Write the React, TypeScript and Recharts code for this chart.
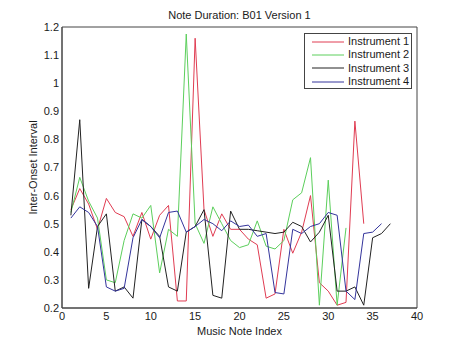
import React from 'react';
import { LineChart, Line, XAxis, YAxis, Legend } from 'recharts';

const seriesNames = ['Instrument 1', 'Instrument 2', 'Instrument 3', 'Instrument 4'];
const seriesColors = ['#e03c52', '#5ccf5c', '#222222', '#34349c'];

const inst1 = [0.55, 0.625, 0.57, 0.48, 0.59, 0.54, 0.525, 0.455, 0.54, 0.445, 0.53, 0.565, 0.225, 0.225, 1.16, 0.55, 0.455, 0.535, 0.48, 0.48, 0.445, 0.425, 0.235, 0.25, 0.48, 0.395, 0.47, 0.6, 0.29, 0.26, 0.21, 0.22, 0.865, 0.5];
const inst2 = [0.54, 0.665, 0.58, 0.52, 0.3, 0.29, 0.44, 0.535, 0.52, 0.565, 0.325, 0.48, 0.455, 1.175, 0.5, 0.43, 0.56, 0.5, 0.44, 0.415, 0.425, 0.51, 0.42, 0.41, 0.44, 0.585, 0.61, 0.735, 0.21, 0.655, 0.21, 0.485];
const inst3 = [0.53, 0.87, 0.27, 0.49, 0.535, 0.26, 0.275, 0.235, 0.515, 0.49, 0.455, 0.275, 0.26, 0.47, 0.49, 0.55, 0.245, 0.235, 0.545, 0.48, 0.48, 0.475, 0.47, 0.465, 0.47, 0.505, 0.49, 0.435, 0.47, 0.53, 0.26, 0.26, 0.275, 0.21, 0.45, 0.465, 0.5];
const inst4 = [0.52, 0.56, 0.54, 0.49, 0.275, 0.26, 0.27, 0.45, 0.515, 0.49, 0.45, 0.54, 0.545, 0.47, 0.49, 0.515, 0.5, 0.475, 0.51, 0.49, 0.495, 0.455, 0.465, 0.255, 0.25, 0.48, 0.465, 0.49, 0.5, 0.54, 0.53, 0.26, 0.23, 0.465, 0.47, 0.5];

const xTicks = [0, 5, 10, 15, 20, 25, 30, 35, 40];
const yTicks = [0.2, 0.3, 0.4, 0.5, 0.6, 0.7, 0.8, 0.9, 1.0, 1.1, 1.2];

const allSeries = [inst1, inst2, inst3, inst4];
const keys = ['inst1', 'inst2', 'inst3', 'inst4'];
const maxLen = Math.max(...allSeries.map((s) => s.length));
const data = Array.from({ length: maxLen }, (_, i) => {
  const row: Record<string, number | null> = { x: i + 1 };
  keys.forEach((k, j) => {
    row[k] = i < allSeries[j].length ? allSeries[j][i] : null;
  });
  return row;
});

const FONT = '"Liberation Sans", Arial, sans-serif';
const AXIS = '#444444';
const tickStyle = { fontSize: 11, fill: '#1a1a1a', fontFamily: FONT };

const fmtY = (v: number) => String(Number(v.toFixed(1)));

const LegendBox = () => (
  <div
    style={{
      boxSizing: 'border-box',
      width: 108,
      height: 56,
      border: `1px solid ${AXIS}`,
      background: '#fff',
      paddingTop: 1,
      fontFamily: FONT,
      fontSize: 11,
      color: '#1a1a1a',
    }}
  >
    {seriesNames.map((n, i) => (
      <div key={n} style={{ height: 13.33, display: 'flex', alignItems: 'center' }}>
        <svg width={32} height={4} style={{ marginLeft: 7, marginRight: 4 }}>
          <line x1={0} y1={2} x2={32} y2={2} stroke={seriesColors[i]} strokeWidth={1} />
        </svg>
        <span style={{ lineHeight: '13px', whiteSpace: 'nowrap' }}>{n}</span>
      </div>
    ))}
  </div>
);

export default function App() {
  return (
    <div style={{ position: 'absolute', left: 0, top: 0, width: 462, height: 348, background: '#fff' }}>
      <div
        style={{
          position: 'absolute',
          left: 0,
          top: 9,
          width: 479,
          textAlign: 'center',
          fontFamily: FONT,
          fontSize: 11,
          lineHeight: '13px',
          color: '#1a1a1a',
        }}
      >
        Note Duration: B01 Version 1
      </div>
      <LineChart width={462} height={348} data={data} margin={{ top: 27, right: 45, bottom: 10, left: 0 }}>
        <XAxis
          xAxisId="b"
          dataKey="x"
          type="number"
          domain={[0, 40]}
          ticks={xTicks}
          height={30}
          tickSize={0}
          tickMargin={4}
          tickLine={false}
          axisLine={{ stroke: AXIS }}
          tick={tickStyle}
          label={{ value: 'Music Note Index', position: 'center', dy: 8, style: { fontSize: 11, fill: '#1a1a1a', fontFamily: FONT } }}
        />
        <XAxis
          xAxisId="bm"
          dataKey="x"
          type="number"
          domain={[0, 40]}
          ticks={xTicks}
          orientation="bottom"
          mirror
          tickSize={5}
          tick={false}
          tickLine={{ stroke: AXIS }}
          axisLine={{ stroke: AXIS }}
        />
        <XAxis
          xAxisId="t"
          dataKey="x"
          type="number"
          domain={[0, 40]}
          ticks={xTicks}
          orientation="top"
          mirror
          tickSize={5}
          tick={false}
          tickLine={{ stroke: AXIS }}
          axisLine={{ stroke: AXIS }}
        />
        <YAxis
          yAxisId="l"
          type="number"
          domain={[0.2, 1.2]}
          ticks={yTicks}
          width={62}
          tickSize={0}
          tickMargin={3}
          tickLine={false}
          axisLine={{ stroke: AXIS }}
          tick={tickStyle}
          tickFormatter={fmtY}
          label={{ value: 'Inter-Onset Interval', angle: -90, position: 'center', dx: 2, style: { fontSize: 11, fill: '#1a1a1a', fontFamily: FONT } }}
        />
        <YAxis
          yAxisId="lm"
          type="number"
          domain={[0.2, 1.2]}
          ticks={yTicks}
          orientation="left"
          mirror
          tickSize={5}
          tick={false}
          tickLine={{ stroke: AXIS }}
          axisLine={{ stroke: AXIS }}
        />
        <YAxis
          yAxisId="r"
          type="number"
          domain={[0.2, 1.2]}
          ticks={yTicks}
          orientation="right"
          mirror
          tickSize={5}
          tick={false}
          tickLine={{ stroke: AXIS }}
          axisLine={{ stroke: AXIS }}
        />
        <Legend
          layout="vertical"
          align="center"
          verticalAlign="middle"
          content={() => <LegendBox />}
          wrapperStyle={{ left: 304, top: 33, width: 108, height: 56 }}
        />
        {keys.map((k, i) => (
          <Line
            key={k}
            xAxisId="b"
            yAxisId="l"
            type="linear"
            dataKey={k}
            name={seriesNames[i]}
            stroke={seriesColors[i]}
            strokeWidth={1}
            dot={false}
            isAnimationActive={false}
          />
        ))}
      </LineChart>
    </div>
  );
}
